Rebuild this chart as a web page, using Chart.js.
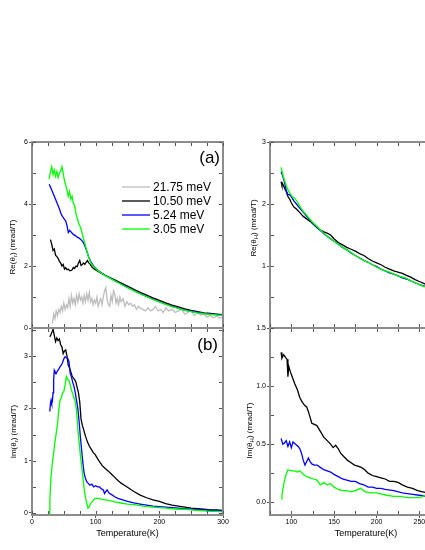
<!DOCTYPE html>
<html>
<head>
<meta charset="utf-8">
<script src="https://cdn.jsdelivr.net/npm/chart.js@4.4.1/dist/chart.umd.min.js"></script>
<style>
    body {margin: 0; background: #fff;}
    #page {position: relative; width: 425px; height: 550px; overflow: hidden; background: #fff;}
    canvas {position: absolute;}
</style>
</head>
<body>
<div id="page">
    <canvas id="reR" width="232" height="206" style="left:0;top:130px"></canvas>
    <canvas id="imR" width="232" height="230" style="left:0;top:320px"></canvas>
    <canvas id="reH" width="230" height="206" style="left:240px;top:130px"></canvas>
    <canvas id="imH" width="230" height="230" style="left:240px;top:320px"></canvas>
</div>
<script>
var energies = ['21.75 meV', '10.50 meV', '5.24 meV', '3.05 meV'];

// Re(theta_r), panel (a)
var reR_T_2175 = [32, 34, 36, 38, 40, 42, 44, 46, 48, 50, 52, 54, 56, 58, 60, 62, 64, 66, 68, 70, 72, 74, 76, 78, 80, 82, 84, 86, 88, 90, 92, 94, 96, 98, 100, 102, 104, 106, 108, 110, 112, 114, 116, 118, 120, 122, 124, 126, 128, 130, 132, 134, 136, 138, 140, 143, 146, 149, 152, 155, 158, 161, 164, 167, 170, 174, 178, 182, 186, 190, 194, 198, 202, 206, 210, 215, 220, 225, 230, 235, 240, 245, 250, 255, 260, 265, 270, 275, 280, 285, 290, 295, 300];
var reR_2175 = [0.15, 0.45, 0.3, 0.55, 0.4, 0.6, 0.5, 0.7, 0.55, 0.8, 0.6, 0.75, 0.65, 0.95, 0.7, 1.05, 0.8, 0.95, 0.75, 1.05, 0.85, 1.1, 0.9, 1.0, 0.8, 1.05, 0.85, 1.1, 0.9, 1.15, 0.85, 0.95, 0.75, 0.9, 0.8, 1.0, 0.7, 0.85, 0.95, 0.75, 1.0, 1.2, 1.3, 0.9, 0.75, 0.7, 1.05, 0.85, 1.2, 1.1, 0.8, 0.95, 0.75, 1.0, 0.85, 0.95, 0.7, 0.85, 0.75, 0.8, 0.7, 0.75, 0.6, 0.7, 0.65, 0.6, 0.55, 0.65, 0.55, 0.6, 0.7, 0.55, 0.6, 0.5, 0.65, 0.55, 0.6, 0.5, 0.55, 0.6, 0.45, 0.5, 0.55, 0.4, 0.5, 0.42, 0.45, 0.35, 0.4, 0.33, 0.38, 0.32, 0.35];
var reR_T_1050 = [29, 31, 33, 35, 37, 39, 41, 43, 45, 47, 49, 51, 53, 55, 57, 59, 61, 63, 65, 67, 69, 71, 73, 75, 77, 79, 81, 83, 85, 87, 89, 91, 93, 95, 98, 102, 108, 115, 122, 130, 140, 150, 160, 170, 180, 190, 200, 210, 220, 230, 240, 250, 260, 270, 280, 290, 300];
var reR_1050 = [2.85, 2.7, 2.5, 2.55, 2.35, 2.3, 2.25, 2.15, 2.1, 2.0, 2.05, 1.9, 1.95, 1.88, 1.9, 1.85, 1.85, 1.88, 1.95, 1.92, 2.0, 1.98, 2.1, 2.18, 2.02, 2.05, 2.1, 2.05, 2.12, 2.18, 2.1, 2.07, 2.0, 1.95, 1.9, 1.85, 1.78, 1.7, 1.63, 1.55, 1.45, 1.35, 1.25, 1.15, 1.06, 0.97, 0.89, 0.81, 0.74, 0.68, 0.62, 0.57, 0.53, 0.49, 0.47, 0.45, 0.43];
var reR_T_524 = [27, 29, 31, 33, 35, 37, 39, 41, 43, 45, 47, 49, 51, 53, 55, 57, 59, 62, 65, 68, 71, 74, 77, 80, 83, 86, 89, 92, 95, 98, 102, 108, 115, 122, 130, 140, 150, 160, 170, 180, 190, 200, 210, 220, 230, 240, 250, 260, 270, 280, 290, 300];
var reR_524 = [4.64, 4.55, 4.45, 4.35, 4.25, 4.15, 4.05, 3.95, 3.85, 3.72, 3.62, 3.57, 3.5, 3.45, 3.3, 3.08, 3.15, 3.08, 3.02, 2.98, 2.93, 2.9, 2.85, 2.78, 2.65, 2.48, 2.3, 2.15, 2.05, 1.97, 1.89, 1.79, 1.7, 1.62, 1.53, 1.42, 1.31, 1.21, 1.11, 1.02, 0.93, 0.85, 0.77, 0.7, 0.64, 0.58, 0.54, 0.5, 0.47, 0.45, 0.43, 0.42];
var reR_T_305 = [27, 29, 31, 33, 35, 37, 39, 41, 43, 45, 47, 49, 51, 53, 55, 57, 59, 61, 63, 65, 67, 69, 71, 73, 75, 77, 80, 83, 86, 89, 92, 95, 98, 102, 108, 115, 122, 130, 140, 150, 160, 170, 180, 190, 200, 210, 220, 230, 240, 250, 260, 270, 280, 290, 300];
var reR_305 = [4.8, 5.05, 5.2, 4.95, 5.1, 4.9, 5.05, 4.85, 5.0, 5.05, 5.2, 5.0, 4.75, 4.6, 4.45, 4.25, 4.4, 4.15, 4.25, 4.0, 3.95, 3.7, 3.55, 3.4, 3.3, 3.2, 2.95, 2.72, 2.5, 2.28, 2.12, 2.02, 1.96, 1.88, 1.78, 1.69, 1.61, 1.52, 1.41, 1.3, 1.2, 1.1, 1.01, 0.92, 0.84, 0.76, 0.69, 0.63, 0.57, 0.53, 0.49, 0.46, 0.44, 0.42, 0.41];

// Im(theta_r), panel (b)
var imR_T_1050 = [28, 30, 32, 33, 35, 37, 39, 41, 43, 45, 47, 49, 51, 53, 55, 57, 59, 61, 63, 65, 67, 69, 71, 73, 75, 77, 79, 81, 84, 87, 90, 93, 96, 99, 102, 106, 110, 115, 120, 125, 130, 135, 140, 145, 150, 160, 170, 180, 190, 200, 210, 220, 230, 240, 250, 260, 270, 280, 290, 300];
var imR_1050 = [3.37, 3.42, 3.48, 3.52, 3.4, 3.28, 3.35, 3.3, 3.33, 3.22, 3.18, 3.05, 3.1, 3.12, 3.0, 2.82, 2.78, 2.7, 2.62, 2.58, 2.55, 2.5, 2.4, 2.3, 2.12, 1.8, 1.68, 1.6, 1.47, 1.36, 1.28, 1.22, 1.16, 1.12, 1.06, 0.98, 0.91, 0.85, 0.8, 0.74, 0.68, 0.62, 0.57, 0.53, 0.49, 0.41, 0.34, 0.29, 0.25, 0.22, 0.18, 0.15, 0.13, 0.11, 0.09, 0.08, 0.07, 0.06, 0.06, 0.05];
var imR_T_524 = [28, 29, 30, 31, 32, 33, 34, 35, 36, 38, 40, 42, 44, 46, 48, 50, 52, 54, 56, 58, 60, 62, 64, 66, 68, 70, 72, 74, 76, 78, 80, 82, 84, 86, 88, 91, 94, 97, 100, 103, 106, 109, 112, 114, 116, 118, 121, 125, 130, 135, 140, 150, 160, 170, 180, 190, 200, 210, 220, 230, 240, 250, 260, 270, 280, 290, 300];
var imR_524 = [1.94, 2.1, 2.16, 2.1, 2.13, 2.3, 2.55, 2.73, 2.7, 2.67, 2.72, 2.75, 2.8, 2.83, 2.88, 2.95, 2.99, 2.97, 2.96, 2.9, 2.67, 2.6, 2.5, 2.42, 2.3, 2.15, 2.0, 1.75, 1.45, 1.2, 0.95, 0.75, 0.66, 0.6, 0.57, 0.53, 0.55, 0.5, 0.52, 0.5, 0.5, 0.46, 0.44, 0.37, 0.41, 0.44, 0.38, 0.35, 0.31, 0.28, 0.26, 0.22, 0.19, 0.17, 0.15, 0.13, 0.12, 0.11, 0.1, 0.09, 0.08, 0.07, 0.06, 0.06, 0.05, 0.05, 0.04];
var imR_T_305 = [27, 28, 29, 30, 32, 34, 36, 38, 40, 42, 44, 46, 48, 50, 52, 54, 56, 58, 60, 62, 64, 66, 68, 70, 72, 74, 76, 78, 80, 82, 84, 86, 88, 90, 92, 95, 98, 101, 105, 110, 115, 120, 130, 140, 150, 160, 170, 180, 190, 200, 210, 220, 230, 240, 250, 260, 270, 280, 290, 300];
var imR_305 = [-0.04, 0.2, 0.5, 0.72, 0.95, 1.15, 1.35, 1.52, 1.7, 1.95, 2.16, 2.2, 2.3, 2.32, 2.45, 2.61, 2.55, 2.54, 2.45, 2.35, 2.28, 2.2, 2.12, 1.95, 1.6, 1.35, 1.1, 0.9, 0.68, 0.45, 0.3, 0.18, 0.09, 0.12, 0.18, 0.22, 0.27, 0.28, 0.28, 0.26, 0.25, 0.24, 0.21, 0.19, 0.17, 0.16, 0.14, 0.12, 0.11, 0.1, 0.09, 0.08, 0.07, 0.07, 0.06, 0.05, 0.04, 0.03, 0.03, 0.02];

// Re(theta_H)
var reH_T_1050 = [88, 89, 90, 92, 94, 96, 98, 100, 103, 106, 110, 114, 118, 122, 126, 130, 134, 138, 142, 146, 150, 155, 160, 165, 170, 175, 180, 185, 190, 195, 200, 205, 210, 215, 220, 225, 230, 235, 240, 245, 250, 255, 260];
var reH_1050 = [2.36, 2.3, 2.32, 2.26, 2.2, 2.12, 2.08, 2.02, 1.95, 1.92, 1.86, 1.8, 1.76, 1.72, 1.67, 1.62, 1.58, 1.55, 1.53, 1.5, 1.44, 1.38, 1.34, 1.3, 1.27, 1.24, 1.2, 1.17, 1.12, 1.08, 1.05, 1.02, 0.98, 0.95, 0.92, 0.9, 0.88, 0.85, 0.82, 0.78, 0.75, 0.72, 0.69];
var reH_T_524 = [88, 90, 92, 94, 96, 98, 100, 103, 106, 110, 114, 118, 122, 126, 130, 135, 140, 145, 150, 155, 160, 165, 170, 175, 180, 185, 190, 195, 200, 205, 210, 215, 220, 225, 230, 235, 240, 245, 250, 255, 260];
var reH_524 = [2.52, 2.45, 2.35, 2.22, 2.15, 2.15, 2.12, 2.05, 2.0, 1.93, 1.87, 1.8, 1.74, 1.68, 1.62, 1.56, 1.5, 1.45, 1.4, 1.35, 1.3, 1.26, 1.21, 1.17, 1.13, 1.09, 1.06, 1.02, 0.99, 0.95, 0.92, 0.89, 0.87, 0.84, 0.81, 0.79, 0.76, 0.73, 0.7, 0.68, 0.66];
var reH_T_305 = [88, 90, 92, 95, 98, 101, 104, 107, 110, 114, 118, 122, 126, 130, 134, 138, 142, 146, 150, 155, 160, 165, 170, 175, 180, 185, 190, 195, 200, 205, 210, 215, 220, 225, 230, 235, 240, 245, 250, 255, 260];
var reH_305 = [2.59, 2.48, 2.38, 2.26, 2.18, 2.12, 2.09, 2.04, 1.96, 1.88, 1.82, 1.75, 1.69, 1.64, 1.58, 1.53, 1.48, 1.44, 1.4, 1.35, 1.3, 1.26, 1.22, 1.17, 1.13, 1.09, 1.06, 1.02, 0.98, 0.95, 0.92, 0.9, 0.87, 0.84, 0.82, 0.8, 0.76, 0.73, 0.7, 0.67, 0.65];

// Im(theta_H)
var imH_T_1050 = [88, 89, 91, 93, 95, 96, 97, 99, 101, 104, 107, 110, 113, 116, 118, 120, 122, 124, 127, 130, 134, 138, 142, 146, 149, 152, 155, 158, 162, 166, 170, 174, 178, 182, 186, 190, 195, 200, 205, 210, 215, 220, 225, 230, 236, 242, 248, 254, 260];
var imH_1050 = [1.29, 1.24, 1.27, 1.25, 1.23, 1.08, 1.17, 1.12, 1.08, 1.02, 0.97, 0.9, 0.86, 0.83, 0.82, 0.78, 0.73, 0.68, 0.67, 0.66, 0.61, 0.56, 0.53, 0.5, 0.47, 0.49, 0.46, 0.42, 0.39, 0.36, 0.34, 0.32, 0.31, 0.3, 0.28, 0.25, 0.23, 0.22, 0.21, 0.2, 0.18, 0.18, 0.17, 0.15, 0.13, 0.12, 0.1, 0.09, 0.08];
var imH_T_524 = [88, 90, 92, 94, 96, 98, 100, 102, 105, 108, 110, 112, 114, 116, 118, 120, 122, 124, 127, 130, 134, 138, 142, 146, 150, 155, 160, 165, 170, 175, 180, 185, 190, 195, 200, 205, 210, 220, 230, 240, 250, 260];
var imH_524 = [0.55, 0.5, 0.51, 0.53, 0.48, 0.52, 0.47, 0.52, 0.5, 0.48, 0.46, 0.42, 0.36, 0.32, 0.35, 0.38, 0.35, 0.33, 0.32, 0.32, 0.3, 0.28, 0.27, 0.26, 0.24, 0.22, 0.2, 0.19, 0.18, 0.18, 0.16, 0.15, 0.13, 0.13, 0.12, 0.12, 0.11, 0.1, 0.08, 0.07, 0.06, 0.05];
var imH_T_305 = [88, 89, 91, 93, 96, 100, 104, 107, 110, 114, 118, 122, 126, 130, 134, 138, 142, 146, 150, 155, 160, 165, 170, 175, 181, 187, 193, 200, 206, 212, 220, 228, 236, 244, 250, 257];
var imH_305 = [0.03, 0.06, 0.15, 0.22, 0.28, 0.27, 0.27, 0.26, 0.27, 0.24, 0.22, 0.21, 0.2, 0.19, 0.15, 0.17, 0.15, 0.16, 0.13, 0.11, 0.1, 0.1, 0.09, 0.1, 0.12, 0.09, 0.08, 0.08, 0.07, 0.06, 0.05, 0.05, 0.04, 0.04, 0.04, 0.06];

// tick labels
var reRTicks = [0, 2, 4, 6];
var imRTicks = [0, 1, 2, 3];
var reHTicks = [1, 2, 3];
var imHTicks = [0, 0.5, 1, 1.5];
var tempTicksLeft = [0, 100, 200, 300];
var tempTicksRight = [100, 150, 200, 250, 300];

var lineColors = ['#bdbdbd', '#000000', '#0000ff', '#00ff00'];
var FONT = "'Liberation Sans', Arial, sans-serif";

function pts(xs, ys) {
    return xs.map(function (x, i) { return {x: x, y: ys[i]}; });
}

function series(list) {
    // list: [[T, values] or null] in legend order
    var out = [];
    list.forEach(function (s, i) {
        if (!s) return;
        out.push({
            label: energies[i],
            data: pts(s[0], s[1]),
            borderColor: lineColors[i],
            borderWidth: 1.3,
            pointRadius: 0,
            tension: 0,
            order: 4 - i
        });
    });
    return out;
}

var decor = {
    id: 'decor',
    afterDatasetsDraw: function (chart, args, o) {
        var ctx = chart.ctx, a = chart.chartArea, xs = chart.scales.x, ys = chart.scales.y, k, p;
        ctx.save();
        ctx.strokeStyle = '#8c8c8c';
        ctx.lineWidth = 2;
        ctx.strokeRect(a.left, a.top, a.right - a.left, a.bottom - a.top);
        ctx.strokeStyle = '#555';
        ctx.lineWidth = 1;
        ctx.beginPath();
        for (k = Math.ceil(xs.min / o.xStep); k * o.xStep <= xs.max + 1e-9; k++) {
            p = Math.round(xs.getPixelForValue(k * o.xStep)) + 0.5;
            ctx.moveTo(p, a.bottom - 1); ctx.lineTo(p, a.bottom - 4);
            ctx.moveTo(p, a.top + 1); ctx.lineTo(p, a.top + 4);
        }
        for (k = Math.ceil(ys.min / o.yStep); k * o.yStep <= ys.max + 1e-9; k++) {
            p = Math.round(ys.getPixelForValue(k * o.yStep)) + 0.5;
            ctx.moveTo(a.left + 1, p); ctx.lineTo(a.left + 4, p);
            ctx.moveTo(a.right - 1, p); ctx.lineTo(a.right - 4, p);
        }
        ctx.stroke();
        ctx.restore();
    },
    afterDraw: function (chart, args, o) {
        var ctx = chart.ctx, a = chart.chartArea;
        ctx.save();
        ctx.fillStyle = '#000';

        // rotated y title with subscript
        ctx.translate(a.left + o.titleX, (a.top + a.bottom) / 2 + o.titleDy);
        ctx.rotate(-Math.PI / 2);
        ctx.font = '8px ' + FONT;
        var w1 = ctx.measureText(o.pre).width, w3 = ctx.measureText(o.post).width;
        ctx.font = '6px ' + FONT;
        var w2 = ctx.measureText(o.sub).width;
        var x0 = -(w1 + w2 + w3) / 2;
        ctx.textBaseline = 'alphabetic';
        ctx.font = '8px ' + FONT;
        ctx.fillText(o.pre, x0, 3);
        ctx.fillText(o.post, x0 + w1 + w2, 3);
        ctx.font = '6px ' + FONT;
        ctx.fillText(o.sub, x0 + w1, 5);
        ctx.setTransform(1, 0, 0, 1, 0, 0);

        if (o.tag) {
            ctx.font = '17px ' + FONT;
            ctx.textAlign = 'right';
            ctx.textBaseline = 'middle';
            ctx.fillText(o.tag, a.right - o.tagDx, a.top + o.tagDy);
        }

        if (o.legend) {
            ctx.textAlign = 'left';
            ctx.textBaseline = 'middle';
            ctx.font = '12px ' + FONT;
            chart.data.datasets.forEach(function (ds, i) {
                var y = a.top + 45 + 14 * i;
                ctx.strokeStyle = ds.borderColor;
                ctx.lineWidth = 1.3;
                ctx.beginPath();
                ctx.moveTo(a.left + 90, y);
                ctx.lineTo(a.left + 118, y);
                ctx.stroke();
                ctx.fillText(ds.label, a.left + 121, y + 0.5);
            });
        }
        ctx.restore();
    }
};

function yAxis(min, max, ticks, width, fmt) {
    return {
        type: 'linear', min: min, max: max,
        afterFit: function (s) { s.width = width; },
        afterBuildTicks: function (s) { s.ticks = ticks.map(function (v) { return {value: v}; }); },
        border: {display: false},
        grid: {drawOnChartArea: false, tickLength: 3, color: '#555'},
        ticks: {
            font: {size: 7, family: FONT}, color: '#000', padding: 1,
            callback: function (v) { return fmt ? v.toFixed(1) : String(v); }
        }
    };
}

function xAxis(min, max, ticks, show) {
    if (!show) return {type: 'linear', min: min, max: max, display: false};
    return {
        type: 'linear', min: min, max: max,
        afterFit: function (s) { s.height = 33; },
        afterBuildTicks: function (s) { s.ticks = ticks.map(function (v) { return {value: v}; }); },
        border: {display: false},
        grid: {drawOnChartArea: false, tickLength: 3, color: '#555'},
        ticks: {font: {size: 7, family: FONT}, color: '#000', padding: 0, maxRotation: 0, autoSkip: false},
        title: {display: true, text: 'Temperature(K)', color: '#000', font: {size: 9, family: FONT}, padding: {top: 0, bottom: 9}}
    };
}

function makePanel(id, datasets, scales, padding, decorOpts) {
    var ctx = document.getElementById(id).getContext('2d');
    window[id] = new Chart(ctx, {
        type: 'line',
        data: {datasets: datasets},
        plugins: [decor],
        options: {
            responsive: false,
            animation: false,
            layout: {padding: padding},
            scales: scales,
            plugins: {legend: {display: false}, tooltip: {enabled: false}, decor: decorOpts}
        }
    });
}

makePanel('reR',
    series([[reR_T_2175, reR_2175], [reR_T_1050, reR_1050], [reR_T_524, reR_524], [reR_T_305, reR_305]]),
    {x: xAxis(0, 300, tempTicksLeft, false), y: yAxis(0, 6, reRTicks, 32, false)},
    {left: 0, top: 12, right: 9, bottom: 8},
    {xStep: 25, yStep: 1, pre: 'Re(\u03b8', sub: 'r', post: ') (mrad/T)', titleX: -20, titleDy: 12, tag: '(a)', tagDx: 3, tagDy: 16, legend: true});

makePanel('imR',
    series([null, [imR_T_1050, imR_1050], [imR_T_524, imR_524], [imR_T_305, imR_305]]),
    {x: xAxis(0, 300, tempTicksLeft, true), y: yAxis(-0.04, 3.54, imRTicks, 32, false)},
    {left: 0, top: 8, right: 9, bottom: 2},
    {xStep: 25, yStep: 0.5, pre: 'Im(\u03b8', sub: 'r', post: ') (mrad/T)', titleX: -19, titleDy: 10, tag: '(b)', tagDx: 5, tagDy: 17});

makePanel('reH',
    series([null, [reH_T_1050, reH_1050], [reH_T_524, reH_524], [reH_T_305, reH_305]]),
    {x: xAxis(75, 300, tempTicksRight, false), y: yAxis(0, 3, reHTicks, 30, false)},
    {left: 0, top: 12, right: 8, bottom: 8},
    {xStep: 25, yStep: 0.5, pre: 'Re(\u03b8', sub: 'H', post: ') (mrad/T)', titleX: -17, titleDy: -7});

makePanel('imH',
    series([null, [imH_T_1050, imH_1050], [imH_T_524, imH_524], [imH_T_305, imH_305]]),
    {x: xAxis(75, 300, tempTicksRight, true), y: yAxis(-0.11, 1.5, imHTicks, 30, true)},
    {left: 0, top: 8, right: 8, bottom: 2},
    {xStep: 25, yStep: 0.25, pre: 'Im(\u03b8', sub: 'H', post: ') (mrad/T)', titleX: -21, titleDy: 9});
</script>
</body>
</html>
